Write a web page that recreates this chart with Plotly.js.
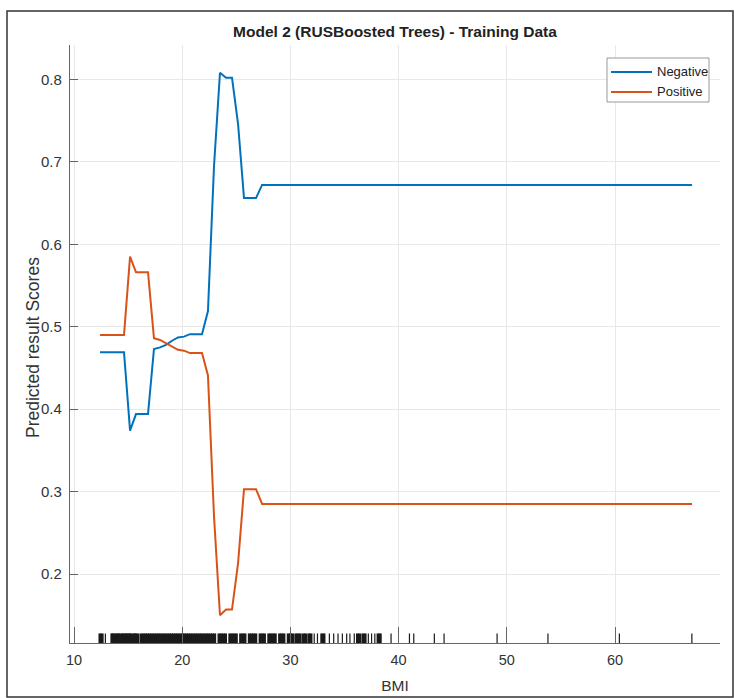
<!DOCTYPE html>
<html>
<head>
<meta charset="utf-8">
<script src="https://cdn.plot.ly/plotly-3.0.1.min.js"></script>
<style>html,body{margin:0;padding:0;background:#fff;}#chart{width:734px;height:698px;}</style>
</head>
<body>
<div id="chart"></div>
<script>
// BMI grid points where the partial dependence curves change
const bmi = [12.40, 14.62, 15.18, 15.73, 16.84, 17.39, 17.95, 18.50, 19.06, 19.61, 20.17, 20.72, 21.28, 21.83, 22.38, 22.94, 23.49, 24.05, 24.60, 25.16, 25.71, 26.27, 26.82, 27.38, 67.12];
const negativeScores = [0.469, 0.469, 0.374, 0.394, 0.394, 0.473, 0.475, 0.478, 0.483, 0.487, 0.488, 0.491, 0.491, 0.491, 0.519, 0.695, 0.808, 0.802, 0.802, 0.746, 0.656, 0.656, 0.656, 0.672, 0.672];
const positiveScores = [0.490, 0.490, 0.585, 0.566, 0.566, 0.486, 0.484, 0.480, 0.476, 0.472, 0.471, 0.468, 0.468, 0.468, 0.441, 0.270, 0.150, 0.157, 0.157, 0.213, 0.303, 0.303, 0.303, 0.285, 0.285];

// Training-data BMI values shown as a rug along the x axis
const rugBMI = [
  12.4, 12.6, 12.9, 13.5, 13.6, 13.8, 14.0, 14.1, 14.3, 14.5, 14.6, 14.8, 14.9, 15.1, 15.2, 15.4, 15.6, 15.7, 15.9,
  16.2, 16.4, 16.6, 16.8, 17.0, 17.2, 17.4, 17.6, 17.8, 18.0, 18.2, 18.4, 18.6, 18.8, 19.0, 19.2, 19.4, 19.6, 19.8,
  20.0, 20.2, 20.4, 20.6, 20.8, 21.0, 21.2, 21.4, 21.6, 21.8, 22.0, 22.2, 22.4, 22.6, 22.8, 23.0,
  23.4, 23.6, 23.8, 24.0, 24.4, 24.6, 24.8, 25.0, 25.4, 25.6, 25.8, 26.2, 26.4, 26.6, 26.8, 27.2, 27.4, 27.6,
  28.0, 28.2, 28.4, 28.6, 29.0, 29.2, 29.4, 29.8, 30.0, 30.2,
  30.5, 30.7, 30.9, 31.2, 31.4, 31.7, 31.9, 32.2, 32.5, 32.9, 33.1, 33.6, 34.0, 34.4, 34.8, 35.2, 35.5, 35.9,
  36.2, 36.4, 36.7, 36.9, 37.2, 37.5, 37.8, 38.1, 38.3,
  39.3, 41.0, 41.4, 43.3, 44.2, 49.1, 53.8, 60.4, 67.1
];

const xTicks = [10, 20, 30, 40, 50, 60];
const yTicks = [0.2, 0.3, 0.4, 0.5, 0.6, 0.7, 0.8];
const titleText = 'Model 2 (RUSBoosted Trees) - Training Data';
const xTitle = 'BMI';
const yTitle = 'Predicted result Scores';
const seriesNames = ['Negative', 'Positive'];
const seriesColors = ['#0072BD', '#D95319'];

const rugLevel = 0.1212;
const rugY = rugBMI.map(() => rugLevel);
// thicker strokes where neighbouring values nearly touch, so dense stretches read as solid
const rugWidths = rugBMI.map((v, i) => {
  const prev = i > 0 ? v - rugBMI[i - 1] : 99;
  const next = i < rugBMI.length - 1 ? rugBMI[i + 1] - v : 99;
  return Math.min(prev, next) <= 0.21 ? 3 : 1.2;
});

const FONT = 'Liberation Sans, Arial, Helvetica, sans-serif';

const traces = [
  {x: bmi, y: negativeScores, name: seriesNames[0], type: 'scatter', mode: 'lines',
   line: {color: seriesColors[0], width: 2}},
  {x: bmi, y: positiveScores, name: seriesNames[1], type: 'scatter', mode: 'lines',
   line: {color: seriesColors[1], width: 2}},
  {x: rugBMI, y: rugY, type: 'scatter', mode: 'markers', showlegend: false, hoverinfo: 'skip',
   marker: {symbol: 'line-ns', size: 8, color: '#1a1a1a', line: {color: '#1a1a1a', width: rugWidths}}}
];

// pixel helpers for the legend box / frame (plot area: x 70..720, y 45..643)
const PL = 70, PW = 650, PB = 643, PH = 598;
const px = v => (v - PL) / PW;
const py = v => (PB - v) / PH;

const legendRows = [72, 92];
const legendShapes = [
  {type: 'rect', xref: 'paper', yref: 'paper', x0: px(607), x1: px(709), y0: py(102), y1: py(58),
   line: {color: '#999', width: 1}, fillcolor: '#fff', layer: 'above'}
].concat(seriesNames.map((n, i) => ({
  type: 'line', xref: 'paper', yref: 'paper', x0: px(611), x1: px(652), y0: py(legendRows[i]), y1: py(legendRows[i]),
  line: {color: seriesColors[i], width: 2}, layer: 'above'
})));
const legendLabels = seriesNames.map((n, i) => ({
  text: n, xref: 'paper', yref: 'paper', x: px(655), y: py(legendRows[i]), xanchor: 'left', yanchor: 'middle',
  showarrow: false, font: {family: FONT, size: 13, color: '#222'}
}));

const layout = {
  width: 734, height: 698,
  margin: {l: 70, r: 14, t: 45, b: 55, pad: 0},
  paper_bgcolor: '#fff', plot_bgcolor: '#fff',
  font: {family: FONT, color: '#333', size: 14},
  showlegend: false,
  title: {text: '<b>' + titleText + '</b>', font: {family: FONT, size: 15.5, color: '#222'},
          x: 0.5, xref: 'paper', xanchor: 'center', y: 1 - 32/698, yanchor: 'middle'},
  xaxis: {
    range: [9.63, 69.7], tickvals: xTicks, ticktext: xTicks.map(String),
    showgrid: true, gridcolor: '#e8e8e8', gridwidth: 1, zeroline: false,
    showline: true, linecolor: '#666', linewidth: 1,
    ticks: 'inside', ticklen: 16, tickcolor: '#666', tickwidth: 1,
    ticklabelstandoff: 4,
    tickfont: {family: FONT, size: 14.5, color: '#333'},
    title: {text: xTitle, font: {family: FONT, size: 15.5, color: '#333'}, standoff: 12}
  },
  yaxis: {
    range: [0.1164, 0.8417], tickvals: yTicks, ticktext: yTicks.map(v => v.toFixed(1) + '\u00a0'),
    showgrid: true, gridcolor: '#e8e8e8', gridwidth: 1, zeroline: false,
    showline: true, linecolor: '#666', linewidth: 1,
    ticks: 'inside', ticklen: 8, tickcolor: '#666', tickwidth: 1,
    tickfont: {family: FONT, size: 15, color: '#333'},
    title: {text: ''}
  },
  annotations: [
    {text: yTitle, xref: 'paper', yref: 'paper', x: px(33), y: py(348), xanchor: 'center', yanchor: 'middle',
     textangle: -90, showarrow: false, font: {family: FONT, size: 17.5, color: '#333'}}
  ].concat(legendLabels),
  shapes: [
    {type: 'rect', xref: 'paper', yref: 'paper',
     x0: px(7), x1: px(733), y0: py(697), y1: py(11),
     line: {color: '#333', width: 1.5}, fillcolor: 'rgba(0,0,0,0)', layer: 'below'}
  ].concat(legendShapes)
};

Plotly.newPlot('chart', traces, layout, {displayModeBar: false, staticPlot: true});
</script>
</body>
</html>
